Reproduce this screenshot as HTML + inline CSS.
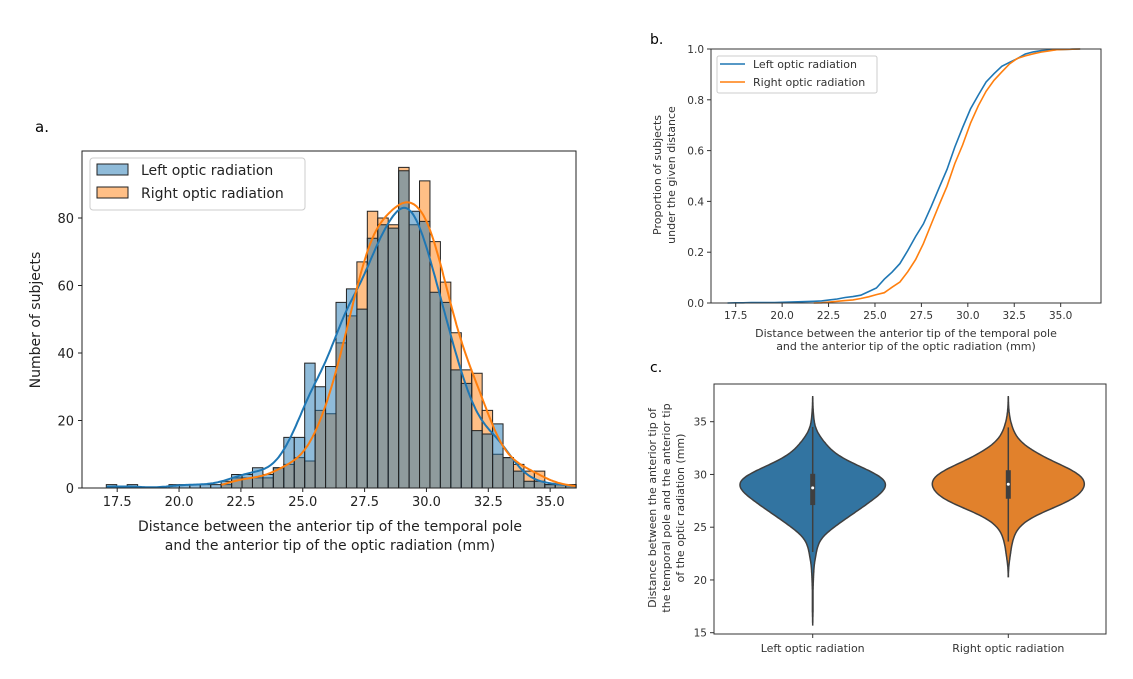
<!DOCTYPE html>
<html><head><meta charset="utf-8"><style>
body{margin:0;background:#fff}
svg{display:block;font-family:"DejaVu Sans","Liberation Sans",sans-serif}
</style></head><body>
<svg id="fig" width="1133" height="679" viewBox="0 0 1133 679">
<rect width="1133" height="679" fill="#fff"/>
<g id="ga"></g>
<g id="gb"></g>
<g id="gc"></g>
</svg>
<script>
const binStart = 17.06;
const binWidth = 0.422;
const leftCounts = [1,0,1,0,0,0,1,1,1,1,1,2,4,4,6,4,6,15,15,37,30,36,55,59,53,74,78,77,94,82,79,58,55,35,31,17,16,19,9,5,2,2,1,1,1,0];
const rightCounts = [0,0,0,0,0,0,0,0,0,0,0,1,3,3,3,3,6,7,9,8,23,22,43,51,67,82,80,78,95,78,91,73,61,46,35,34,23,10,9,7,5,5,1,1,1,0];
const seriesNames = ["Left optic radiation","Right optic radiation"];
const histYTicks = [0,20,40,60,80];
const histXTicks = [17.5,20.0,22.5,25.0,27.5,30.0,32.5,35.0];
const ecdfYTicks = [0.0,0.2,0.4,0.6,0.8,1.0];
const violinYTicks = [15,20,25,30,35];

const NS="http://www.w3.org/2000/svg";
function mk(parent,tag,attrs,text){const e=document.createElementNS(NS,tag);for(const k in attrs)e.setAttribute(k,attrs[k]);if(text!==undefined)e.textContent=text;parent.appendChild(e);return e;}
const centers = leftCounts.map((_,i)=>binStart+binWidth*(i+0.5));
function kde(counts,bw,x){let s=0;for(let i=0;i<counts.length;i++){const z=(x-centers[i])/bw;s+=counts[i]*Math.exp(-0.5*z*z);}return s/(bw*Math.sqrt(2*Math.PI));}
function total(c){return c.reduce((a,b)=>a+b,0);}
function quant(counts,q){const N=total(counts);let cum=0;for(let i=0;i<counts.length;i++){if(cum+counts[i]>=q*N&&counts[i]>0){return binStart+binWidth*(i+(q*N-cum)/counts[i]);}cum+=counts[i];}return binStart+binWidth*counts.length;}
function dmin(c){for(let i=0;i<c.length;i++)if(c[i]>0)return centers[i];}
function dmax(c){for(let i=c.length-1;i>=0;i--)if(c[i]>0)return centers[i];}
const BLUE="#1f77b4",ORANGE="#ff7f0e";

/* ---------- Panel A ---------- */
(function(){
const g=document.getElementById('ga');
const X0=82,X1=576,Y0=151,Y1=488;
const xs=v=>117.2+(v-17.5)*24.74, ys=v=>488-v*3.375;
mk(g,'text',{x:35,y:132,'font-size':15,fill:'#000',},'a.');
[[rightCounts,ORANGE,1],[leftCounts,BLUE,0]].forEach(([c,col,si])=>{
 const gg=mk(g,'g',{});
 
 
 c.forEach((v,i)=>{if(v<=0)return;const x=xs(binStart+binWidth*i);
  const r=mk(gg,'rect',{x:x,y:ys(v),width:binWidth*24.74,height:v*3.375,fill:col,'fill-opacity':0.5,stroke:'#222','stroke-width':1});
  
  });
});
[[leftCounts,BLUE,0.55],[rightCounts,ORANGE,0.55]].forEach(([c,col,bw],si)=>{
 let d='';const lo=dmin(c)-0.2,hi=dmax(c)+0.2;
 for(let k=0;k<=300;k++){const x=lo+(hi-lo)*k/300;const y=kde(c,bw,x)*binWidth;d+=(k?'L':'M')+xs(x).toFixed(1)+','+ys(y).toFixed(1);}
 const p=mk(g,'path',{d:d,fill:'none',stroke:col,'stroke-width':2});
 
 
});
mk(g,'rect',{x:X0,y:Y0,width:X1-X0,height:Y1-Y0,fill:'none',stroke:'#222','stroke-width':1,});
histYTicks.forEach(t=>{const y=ys(t);mk(g,'line',{x1:X0-4,x2:X0,y1:y,y2:y,stroke:'#222'});
 const tt=mk(g,'text',{x:X0-8,y:y+5,'text-anchor':'end','font-size':13,fill:'#222'},t);
 });
histXTicks.forEach(t=>{const x=xs(t);mk(g,'line',{x1:x,x2:x,y1:Y1,y2:Y1+4,stroke:'#222'});
 const tt=mk(g,'text',{x:x,y:Y1+18,'text-anchor':'middle','font-size':13,fill:'#222'},t.toFixed(1));
 });
mk(g,'text',{x:330,y:531,'text-anchor':'middle','font-size':14,fill:'#222',},'Distance between the anterior tip of the temporal pole');
mk(g,'text',{x:330,y:550,'text-anchor':'middle','font-size':14,fill:'#222'},'and the anterior tip of the optic radiation (mm)');
mk(g,'text',{x:40,y:320,'text-anchor':'middle','font-size':14,fill:'#222',transform:'rotate(-90 40 320)',},'Number of subjects');
const lg=mk(g,'g',{});
mk(lg,'rect',{x:90,y:158,width:215,height:52,rx:3,fill:'#fff','fill-opacity':0.8,stroke:'#ccc'});
[[BLUE,164,seriesNames[0]],[ORANGE,187,seriesNames[1]]].forEach(([c,y,n])=>{
 const e=mk(lg,'g',{});
 mk(e,'rect',{x:97,y:y,width:31,height:11,fill:c,'fill-opacity':0.5,stroke:'#222'});
 mk(e,'text',{x:141,y:y+11,'font-size':14,fill:'#222'},n);});
})();

/* ---------- Panel B ---------- */
(function(){
const g=document.getElementById('gb');
const X0=711,X1=1101,Y0=49,Y1=303;
const xs=v=>735.7+(v-17.5)*18.57, ys=v=>Y1-v*(Y1-Y0);
mk(g,'text',{x:650,y:44,'font-size':14,fill:'#000',},'b.');
[[leftCounts,BLUE],[rightCounts,ORANGE]].forEach(([c,col],si)=>{
 const N=total(c);let cum=0;let start=-1;let d='';
 for(let i=0;i<c.length;i++){ if(c[i]>0&&start<0){start=i;d='M'+xs(binStart+binWidth*i).toFixed(1)+','+ys(0).toFixed(1);}
  cum+=c[i]; if(start>=0)d+='L'+xs(binStart+binWidth*(i+1)).toFixed(1)+','+ys(cum/N).toFixed(1);
  if(cum>=N)break;}
 const p=mk(g,'path',{d:d,fill:'none',stroke:col,'stroke-width':1.6});
 
 
});
mk(g,'rect',{x:X0,y:Y0,width:X1-X0,height:Y1-Y0,fill:'none',stroke:'#333',});
ecdfYTicks.forEach(t=>{const y=ys(t);mk(g,'line',{x1:X0-4,x2:X0,y1:y,y2:y,stroke:'#333'});
 const tt=mk(g,'text',{x:X0-7,y:y+4,'text-anchor':'end','font-size':10.5,fill:'#333'},t.toFixed(1));
 });
histXTicks.forEach(t=>{const x=xs(t);mk(g,'line',{x1:x,x2:x,y1:Y1,y2:Y1+4,stroke:'#333'});
 const tt=mk(g,'text',{x:x,y:Y1+16,'text-anchor':'middle','font-size':10.5,fill:'#333'},t.toFixed(1));
 });
mk(g,'text',{x:906,y:337,'text-anchor':'middle','font-size':11,fill:'#333',},'Distance between the anterior tip of the temporal pole');
mk(g,'text',{x:906,y:350,'text-anchor':'middle','font-size':11,fill:'#333'},'and the anterior tip of the optic radiation (mm)');
mk(g,'text',{x:0,y:0,'text-anchor':'middle','font-size':11,fill:'#333',transform:'translate(661 175) rotate(-90)',},'Proportion of subjects');
mk(g,'text',{x:0,y:0,'text-anchor':'middle','font-size':11,fill:'#333',transform:'translate(675 175) rotate(-90)'},'under the given distance');
const lg=mk(g,'g',{});
mk(lg,'rect',{x:717,y:56,width:160,height:37,rx:2,fill:'#fff',stroke:'#ccc'});
[[BLUE,64,seriesNames[0]],[ORANGE,82,seriesNames[1]]].forEach(([c,y,n])=>{
 const e=mk(lg,'g',{});
 mk(e,'line',{x1:720,x2:745,y1:y,y2:y,stroke:c,'stroke-width':1.6});
 mk(e,'text',{x:753,y:y+4,'font-size':11,fill:'#333'},n);});
})();

/* ---------- Panel C ---------- */
(function(){
const g=document.getElementById('gc');
const X0=714,X1=1106,Y0=384,Y1=634;
const ys=v=>632.7-(v-15)*10.55;
const cx=[812.7,1008.3];
mk(g,'text',{x:650,y:372,'font-size':14,fill:'#000',},'c.');
const cols=["#3274a1","#e1812c"];
const bw=0.8;
const sets=[leftCounts,rightCounts];
const dens=sets.map(c=>{const lo=dmin(c)-2*bw,hi=dmax(c)+2*bw;const pts=[];for(let k=0;k<=200;k++){const v=lo+(hi-lo)*k/200;pts.push([v,kde(c,bw,v)/total(c)]);}return pts;});
const maxD=Math.max(...dens.map(p=>Math.max(...p.map(q=>q[1]))));
sets.forEach((c,si)=>{
 const pts=dens[si];const sc=76/maxD;
 let d='';pts.forEach((p,k)=>{d+=(k?'L':'M')+(cx[si]+p[1]*sc).toFixed(1)+','+ys(p[0]).toFixed(1);});
 for(let k=pts.length-1;k>=0;k--){d+='L'+(cx[si]-pts[k][1]*sc).toFixed(1)+','+ys(pts[k][0]).toFixed(1);}
 const p=mk(g,'path',{d:d+'Z',fill:cols[si],stroke:'#3f3f3f','stroke-width':1.5});
 
 
 const q1=quant(c,0.25),q2=quant(c,0.5),q3=quant(c,0.75),iqr=q3-q1;
 const wlo=Math.max(dmin(c),q1-1.5*iqr),whi=Math.min(dmax(c),q3+1.5*iqr);
 const w=mk(g,'line',{x1:cx[si],x2:cx[si],y1:ys(wlo),y2:ys(whi),stroke:'#3f3f3f','stroke-width':1.5});
 
 const b=mk(g,'rect',{x:cx[si]-2.5,y:ys(q3),width:5,height:ys(q1)-ys(q3),fill:'#3f3f3f'});
 
 const m=mk(g,'circle',{cx:cx[si],cy:ys(q2),r:1.5,fill:'#fff'});
 
});
mk(g,'rect',{x:X0,y:Y0,width:X1-X0,height:Y1-Y0,fill:'none',stroke:'#333',});
violinYTicks.forEach(t=>{const y=ys(t);mk(g,'line',{x1:X0-4,x2:X0,y1:y,y2:y,stroke:'#333'});
 const tt=mk(g,'text',{x:X0-7,y:y+4,'text-anchor':'end','font-size':10.5,fill:'#333'},t);
 });
seriesNames.forEach((n,i)=>{mk(g,'line',{x1:cx[i],x2:cx[i],y1:Y1,y2:Y1+4,stroke:'#333'});
 const tt=mk(g,'text',{x:cx[i],y:Y1+18,'text-anchor':'middle','font-size':11,fill:'#333'},n);
 });
['Distance between the anterior tip of','the temporal pole and the anterior tip','of the optic radiation (mm)'].forEach((s,i)=>{
 const t=mk(g,'text',{x:0,y:0,'text-anchor':'middle','font-size':11,fill:'#333',transform:`translate(${656+i*14} 508) rotate(-90)`},s);
 });
})();
</script>
</body></html>
